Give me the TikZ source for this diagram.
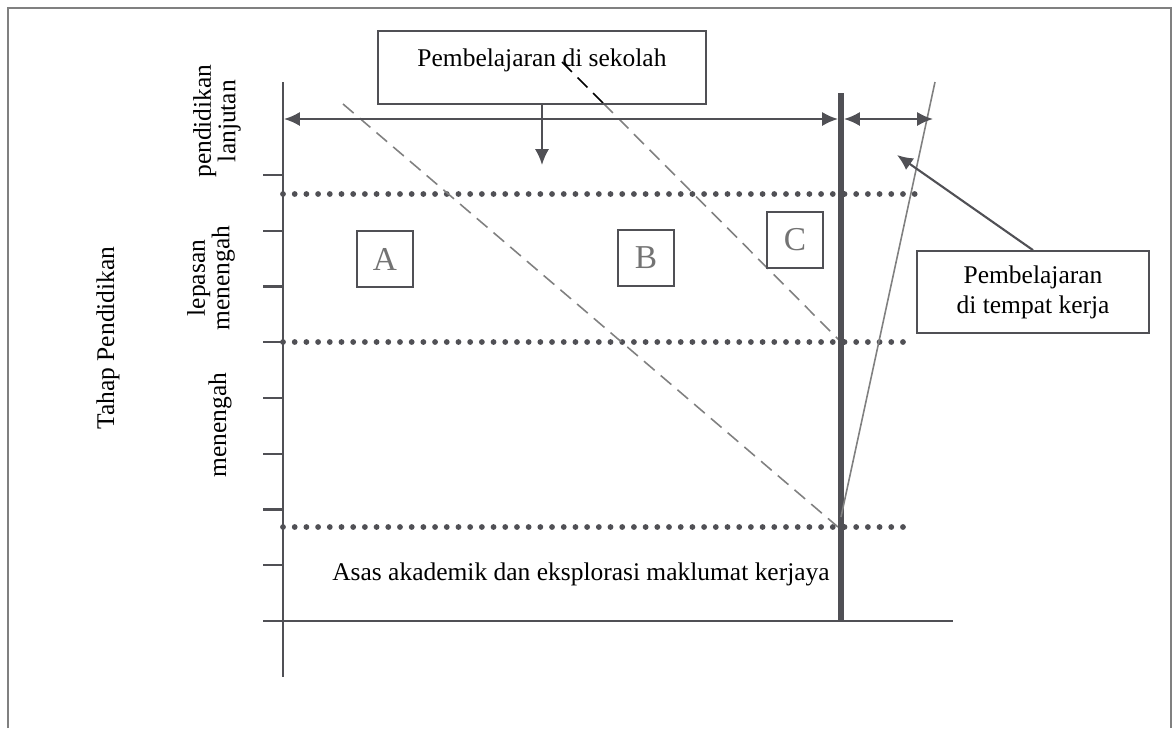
\documentclass[tikz,border=0pt]{standalone}
\usepackage{fontspec}
\setmainfont{Liberation Serif}
\usetikzlibrary{arrows.meta}
\definecolor{linegray}{RGB}{80,80,85}
\definecolor{lettergray}{RGB}{115,115,115}

\begin{document}
\begin{tikzpicture}[x=0.02cm, y=-0.02cm,
    axis/.style={draw=linegray, line width=1.2pt},
    dots/.style={draw=linegray, line width=3.3pt, line cap=round, dash pattern=on 0pt off 0.234cm},
    guide/.style={draw=gray, line width=0.9pt, dash pattern=on 0.28cm off 0.16cm},
    arr/.style={-{Latex[length=9pt,width=8pt]}, draw=linegray, line width=1.2pt},
    box/.style={draw=linegray, line width=1pt, font=\fontsize{14.5}{17}\selectfont},
    letterbox/.style={draw=linegray, line width=1pt, minimum size=1.12cm, text=lettergray, font=\fontsize{19}{19}\selectfont},
    sidelabel/.style={rotate=90, align=center, font=\fontsize{14.5}{14}\selectfont}]
        %% define points
        \def\axisX{283};
        \def\axisY{621};
        \def\splitX{841};
        \def\arrowY{119};

        \useasboundingbox (0,0) rectangle (1174,728);

        %% frame
        \draw[gray, line width=1pt] (8,728) -- (8,8) -- (1171,8) -- (1171,728);

        %% axes
        \draw[axis] (\axisX,82) -- (\axisX,677);
        \draw[axis] (263,\axisY) -- (953,\axisY);
        \foreach \y in {175,230.75,286.5,342.25,398,453.75,509.5,565.25}
            \draw[axis] (263,\y) -- (\axisX,\y);

        %% dotted levels
        \draw[dots] (\axisX,194) -- (923,194);
        \draw[dots] (\axisX,342) -- (913,342);
        \draw[dots] (\axisX,527) -- (913,527);

        %% dashed lines
        \draw[guide] (343,104) -- (838,527);
        \draw[guide, black] (562,62) -- (603,103);
        \draw[guide] (603,103) -- (839,340);

        %% school / work split
        \draw[linegray, line width=3.4pt] (\splitX,93) -- (\splitX,\axisY);
        \draw[gray, line width=0.9pt] (\splitX,517) -- (935,82);

        %% double arrows
        \draw[arr, {Latex[length=9pt,width=8pt]}-{Latex[length=9pt,width=8pt]}] (284,\arrowY) -- (838,\arrowY);
        \draw[arr, {Latex[length=9pt,width=8pt]}-{Latex[length=9pt,width=8pt]}] (844,\arrowY) -- (933,\arrowY);

        %% boxes
        \node[box, minimum width=6.56cm, text height=0.7cm, text depth=0.76cm, inner ysep=0pt, anchor=base] (school) at (542,66) {Pembelajaran di sekolah};
        \node[box, minimum width=4.64cm, minimum height=1.64cm, align=center] (work) at (1033,292) {Pembelajaran\\di tempat kerja};
        \coordinate (stip) at (542,165);
        \coordinate (ptip) at (897,155);
        \draw[arr] (school.south) -- (stip);
        \draw[arr] (work.north) -- (ptip);

        %% A, B, C
        \node[letterbox] (boxA) at (385,259) {A};
        \node[letterbox] (boxB) at (646,258) {B};
        \node[letterbox] (boxC) at (795,240) {C};

        %% other text
        \node[sidelabel] (advlabel) at (217,121) {pendidikan\\lanjutan};
        \node[sidelabel] (postlabel) at (211,278) {lepasan\\menengah};
        \node[sidelabel] (seclabel) at (220,425) {menengah};
        \node[sidelabel] (stagelabel) at (108,338) {Tahap Pendidikan};
        \node[font=\fontsize{14.5}{17}\selectfont, anchor=base] (basis) at (581,580) {Asas akademik dan eksplorasi maklumat kerjaya};
    \end{tikzpicture}
\end{document}
